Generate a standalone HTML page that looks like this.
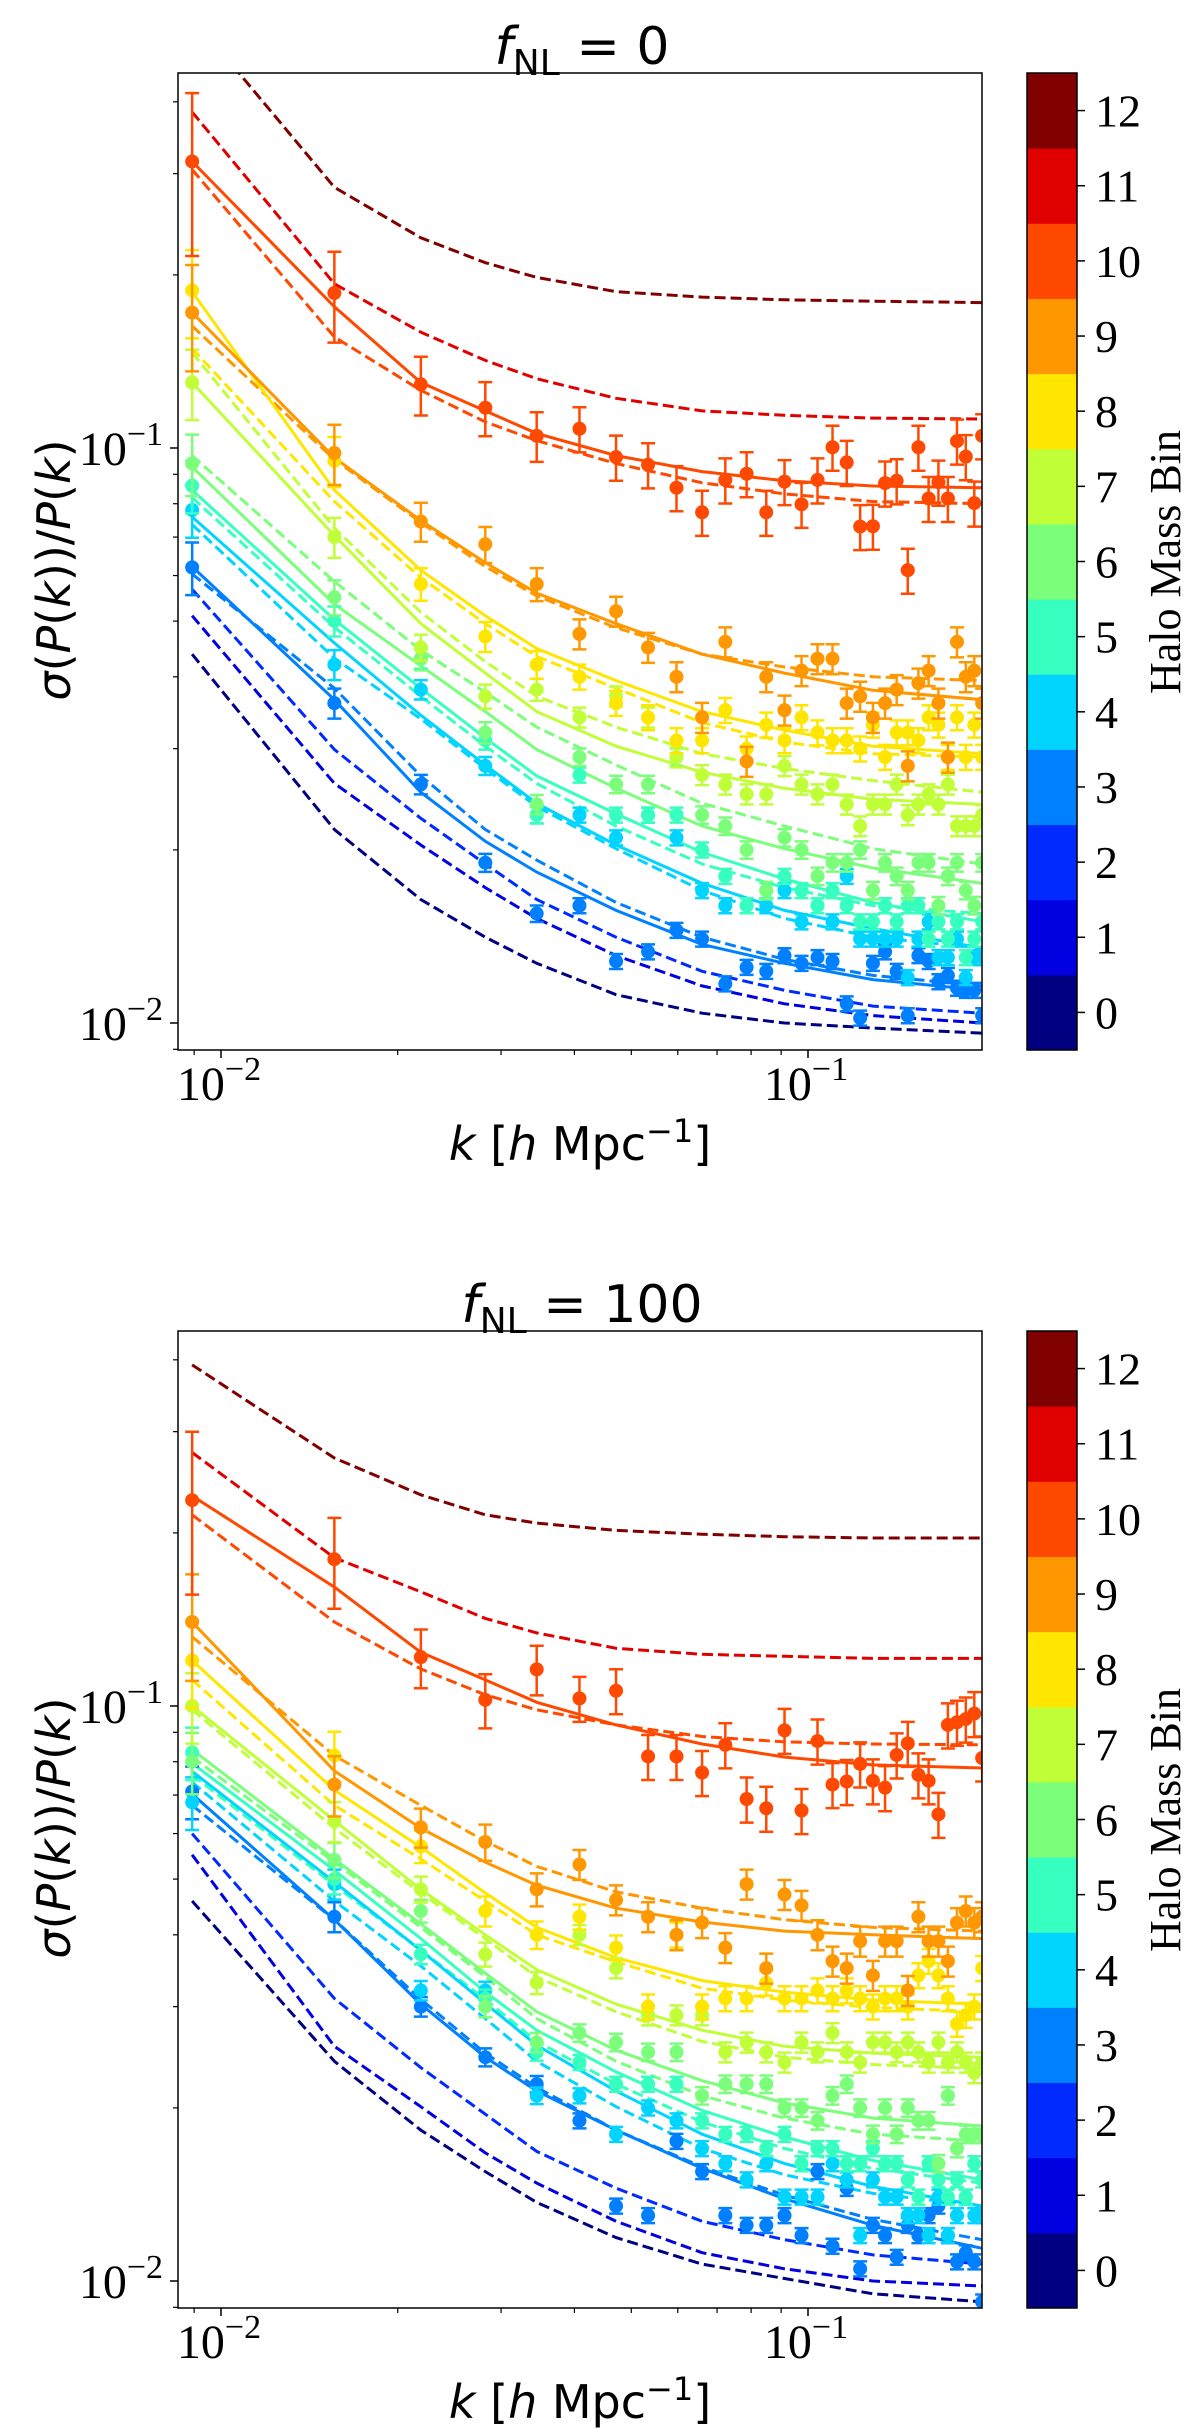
<!DOCTYPE html>
<html><head><meta charset="utf-8"><style>
html,body{margin:0;padding:0;background:#fff;}
svg{display:block;}
.serif{font-family:"Liberation Serif","DejaVu Serif",serif;}
.sans{font-family:"DejaVu Sans","Liberation Sans",sans-serif;}
</style></head>
<body>
<svg id="fig" width="1200" height="2435" viewBox="0 0 1200 2435" xmlns="http://www.w3.org/2000/svg"></svg>
<script>
// ---- data ----
const kVals = [0.00893,0.0156,0.0219,0.0282,0.0345,0.0408,0.0471,0.0534,0.0597,0.066,0.0723,0.0786,0.0849,0.0912,0.0975,0.1038,0.1101,0.1164,0.1227,0.129,0.1353,0.1416,0.1479,0.1542,0.1605,0.1668,0.1731,0.1794,0.1857,0.192,0.198];
const lineIdx = [0,1,2,3,4,6,9,13,19,30];
const bins = [0,1,2,3,4,5,6,7,8,9,10,11,12];
const solidBins = [3,4,5,6,7,8,9,10];

// top panel (fNL = 0): dashed model curves per bin 0..12 at kVals[lineIdx]
const dashTop = [
 [0.0438,0.0217,0.0164,0.0141,0.0127,0.0112,0.0104,0.0100,0.0098,0.0096],
 [0.0511,0.0261,0.0204,0.0172,0.0152,0.0131,0.0116,0.0108,0.0103,0.0100],
 [0.0568,0.0299,0.0227,0.0189,0.0164,0.0141,0.0123,0.0114,0.0107,0.0104],
 [0.0604,0.0382,0.0269,0.0217,0.0192,0.0162,0.0141,0.0129,0.0121,0.0116],
 [0.0736,0.0431,0.0338,0.0277,0.0238,0.0201,0.0170,0.0152,0.0141,0.0135],
 [0.0820,0.0488,0.0370,0.0303,0.0261,0.0220,0.0189,0.0172,0.0160,0.0155],
 [0.0970,0.0586,0.0445,0.0376,0.0327,0.0281,0.0241,0.0220,0.0201,0.0189],
 [0.1466,0.0726,0.0518,0.0425,0.0370,0.0327,0.0294,0.0277,0.0264,0.0252],
 [0.149,0.0807,0.0595,0.0495,0.0434,0.0382,0.0333,0.0308,0.0294,0.0290],
 [0.163,0.0955,0.0742,0.0622,0.0553,0.0487,0.0438,0.0416,0.0400,0.0394],
 [0.305,0.156,0.126,0.111,0.103,0.094,0.087,0.0832,0.0807,0.0800],
 [0.384,0.193,0.159,0.142,0.132,0.122,0.116,0.114,0.1127,0.1123],
 [0.562,0.284,0.232,0.210,0.198,0.187,0.183,0.181,0.180,0.179]
];
// solid fitted curves, bins 3..10
const solidTop = [
 [0.0622,0.0365,0.0252,0.0207,0.0183,0.0157,0.0137,0.0127,0.0119,0.0114],
 [0.0759,0.0458,0.0343,0.0281,0.0241,0.0204,0.0175,0.0157,0.0146,0.0135],
 [0.0845,0.0503,0.0382,0.0313,0.0269,0.0231,0.0198,0.0178,0.0162,0.0150],
 [0.0927,0.0535,0.0418,0.0348,0.0299,0.0256,0.0220,0.0201,0.0186,0.0175],
 [0.130,0.0704,0.0495,0.0406,0.0348,0.0303,0.0273,0.0256,0.0245,0.0240],
 [0.187,0.0845,0.0613,0.0511,0.0448,0.0394,0.0348,0.0323,0.0303,0.0294],
 [0.172,0.0962,0.0748,0.0632,0.0559,0.0495,0.0438,0.0406,0.0379,0.0365],
 [0.315,0.176,0.130,0.116,0.106,0.097,0.091,0.0877,0.0859,0.0853]
];
// measured points, bins 3..10, at every kVals
const ptsTop = [
 [0.062,0.036,0.026,0.019,0.0155,0.016,0.0128,0.0133,0.0145,0.014,0.0117,0.0125,0.0123,0.0131,0.0127,0.013,0.0128,0.0108,0.0102,0.0127,0.0133,0.0123,0.0103,0.0131,0.0128,0.0118,0.0121,0.0115,0.0114,0.0114,0.0103],
 [0.078,0.042,0.038,0.028,0.023,0.023,0.021,0.023,0.021,0.017,0.016,0.016,0.016,0.017,0.015,0.016,0.015,0.018,0.014,0.014,0.014,0.014,0.012,0.014,0.015,0.013,0.013,0.014,0.012,0.013,0.013],
 [0.086,0.050,0.043,0.031,0.023,0.027,0.023,0.023,0.023,0.020,0.018,0.016,0.017,0.018,0.017,0.016,0.017,0.016,0.015,0.015,0.016,0.015,0.016,0.016,0.014,0.015,0.014,0.015,0.013,0.014,0.015],
 [0.094,0.055,0.043,0.032,0.024,0.029,0.026,0.026,0.029,0.023,0.022,0.020,0.017,0.021,0.020,0.018,0.019,0.019,0.020,0.017,0.019,0.018,0.017,0.019,0.019,0.016,0.018,0.019,0.017,0.016,0.019],
 [0.130,0.070,0.045,0.037,0.038,0.034,0.037,0.034,0.029,0.027,0.026,0.025,0.025,0.028,0.026,0.025,0.026,0.024,0.022,0.024,0.024,0.026,0.023,0.024,0.025,0.024,0.026,0.022,0.022,0.022,0.023],
 [0.188,0.095,0.058,0.047,0.042,0.040,0.036,0.034,0.031,0.031,0.035,0.030,0.033,0.031,0.034,0.032,0.031,0.031,0.030,0.033,0.029,0.032,0.032,0.031,0.034,0.033,0.029,0.034,0.029,0.033,0.029],
 [0.172,0.098,0.0745,0.068,0.058,0.0475,0.052,0.045,0.040,0.034,0.046,0.0285,0.040,0.035,0.041,0.043,0.043,0.036,0.037,0.034,0.036,0.038,0.028,0.039,0.041,0.036,0.029,0.046,0.040,0.041,0.036],
 [0.315,0.186,0.129,0.1175,0.105,0.108,0.0964,0.0935,0.0853,0.0773,0.088,0.0902,0.0773,0.0874,0.0798,0.088,0.1003,0.0944,0.073,0.0731,0.0869,0.0877,0.0613,0.1003,0.0817,0.0872,0.0817,0.1028,0.0966,0.0802,0.105]
];

// bottom panel (fNL = 100)
const dashBot = [
 [0.0458,0.0241,0.0183,0.0155,0.0137,0.0119,0.0107,0.0101,0.0095,0.0092],
 [0.0551,0.0256,0.0201,0.0167,0.0148,0.0127,0.0112,0.0105,0.0100,0.0098],
 [0.060,0.031,0.0235,0.0195,0.0168,0.0145,0.0127,0.0118,0.0111,0.0107],
 [0.0672,0.0425,0.0309,0.0249,0.0217,0.0183,0.0158,0.0141,0.0128,0.0118],
 [0.0737,0.0458,0.0353,0.0286,0.0241,0.0201,0.0170,0.0153,0.0142,0.0135],
 [0.0759,0.0488,0.0376,0.0309,0.0261,0.0220,0.0189,0.0170,0.0157,0.0148],
 [0.0815,0.0535,0.0412,0.0338,0.0286,0.0241,0.0210,0.0192,0.0180,0.0175],
 [0.0985,0.0613,0.0473,0.0394,0.0338,0.0294,0.0261,0.0245,0.0238,0.0234],
 [0.111,0.0672,0.0542,0.0458,0.0400,0.0359,0.0323,0.0308,0.0299,0.0294],
 [0.132,0.082,0.0672,0.0582,0.0526,0.0475,0.0445,0.0425,0.0412,0.0406],
 [0.215,0.140,0.116,0.1046,0.0985,0.0927,0.0885,0.0866,0.0859,0.0856],
 [0.276,0.181,0.158,0.142,0.134,0.126,0.123,0.122,0.121,0.121],
 [0.392,0.270,0.233,0.215,0.208,0.202,0.199,0.197,0.196,0.196]
];
const solidBot = [
 [0.0703,0.0425,0.0303,0.0245,0.0214,0.0183,0.0157,0.0139,0.0125,0.0114],
 [0.0770,0.0494,0.0376,0.0304,0.0257,0.0214,0.0180,0.0160,0.0146,0.0135],
 [0.0795,0.0518,0.0394,0.0318,0.0273,0.0231,0.0198,0.0178,0.0162,0.0150],
 [0.0840,0.0542,0.0418,0.0343,0.0294,0.0252,0.0223,0.0204,0.0192,0.0186],
 [0.100,0.0632,0.0480,0.0400,0.0348,0.0303,0.0273,0.0256,0.0249,0.0245],
 [0.120,0.0714,0.0568,0.0473,0.0412,0.0365,0.0333,0.0318,0.0308,0.0303],
 [0.140,0.0771,0.0613,0.0535,0.0488,0.0445,0.0421,0.0406,0.0400,0.0394],
 [0.232,0.161,0.124,0.111,0.1015,0.0927,0.0859,0.0815,0.0790,0.0780]
];
const ptsBot = [
 [0.071,0.043,0.030,0.0245,0.022,0.019,0.0135,0.013,0.0175,0.0155,0.013,0.0125,0.0125,0.013,0.012,0.0155,0.0115,0.0145,0.0105,0.0125,0.012,0.011,0.0125,0.012,0.013,0.0135,0.012,0.0108,0.0112,0.0108,0.0092],
 [0.068,0.049,0.032,0.032,0.021,0.021,0.018,0.020,0.019,0.017,0.016,0.015,0.016,0.014,0.014,0.014,0.016,0.015,0.012,0.015,0.014,0.014,0.013,0.013,0.012,0.014,0.012,0.013,0.014,0.013,0.013],
 [0.083,0.050,0.037,0.031,0.025,0.024,0.022,0.022,0.022,0.019,0.018,0.018,0.017,0.018,0.016,0.017,0.017,0.016,0.016,0.017,0.016,0.016,0.015,0.014,0.016,0.015,0.014,0.015,0.014,0.016,0.015],
 [0.080,0.054,0.044,0.030,0.026,0.027,0.026,0.025,0.025,0.021,0.022,0.022,0.022,0.020,0.020,0.019,0.021,0.022,0.020,0.018,0.020,0.018,0.020,0.019,0.019,0.016,0.021,0.017,0.018,0.018,0.018],
 [0.100,0.063,0.048,0.037,0.033,0.040,0.035,0.029,0.029,0.029,0.025,0.026,0.025,0.024,0.026,0.025,0.027,0.025,0.024,0.026,0.026,0.025,0.026,0.025,0.024,0.026,0.024,0.025,0.024,0.023,0.024],
 [0.120,0.082,0.057,0.044,0.040,0.043,0.038,0.030,0.040,0.030,0.031,0.031,0.033,0.031,0.031,0.032,0.031,0.032,0.031,0.030,0.031,0.031,0.030,0.034,0.036,0.034,0.031,0.028,0.029,0.030,0.035],
 [0.140,0.073,0.0615,0.058,0.048,0.053,0.046,0.043,0.040,0.042,0.038,0.049,0.035,0.047,0.045,0.040,0.036,0.035,0.039,0.034,0.039,0.039,0.032,0.043,0.039,0.039,0.036,0.042,0.044,0.042,0.043],
 [0.228,0.180,0.1216,0.1025,0.1158,0.1031,0.1063,0.0817,0.0817,0.0766,0.0856,0.0689,0.0664,0.0907,0.0658,0.0869,0.073,0.0739,0.0793,0.0741,0.0721,0.0822,0.0861,0.0759,0.0741,0.0648,0.0927,0.0937,0.0949,0.097,0.0812]
];
// relative error bar half-widths per bin (3..10) and per-k enlargement
const relErr = [0.03,0.03,0.03,0.035,0.04,0.05,0.06,0.09];
const errK = [3.5,2,1.3,1.2,1.1,1,1,1,1,1,1,1,1,1,1,1,1,1,1,1,1,1,1,1,1,1,1,1,1,1,1];
const xTickVals = [0.01,0.1];
const xTickExp = ["−2","−1"];
const yTickVals = [0.01,0.1];
const yTickExp = ["−2","−1"];
const cbLabels = ["0","1","2","3","4","5","6","7","8","9","10","11","12"];

// ---- rendering ----
const NS = "http://www.w3.org/2000/svg";
const svg = document.getElementById('fig');
function mk(tag, attrs, parent){ const e=document.createElementNS(NS,tag); for(const k in attrs) e.setAttribute(k,attrs[k]); (parent||svg).appendChild(e); return e; }

function jet(t){
  function seg(pts){ for(let i=0;i<pts.length-1;i++){ const [x0,y0]=pts[i],[x1,y1]=pts[i+1]; if(t>=x0&&t<=x1) return y0+(y1-y0)*(t-x0)/(x1-x0);} return pts[pts.length-1][1]; }
  const r=seg([[0,0],[0.35,0],[0.66,1],[0.89,1],[1,0.5]]);
  const g=seg([[0,0],[0.125,0],[0.375,1],[0.64,1],[0.91,0],[1,0]]);
  const b=seg([[0,0.5],[0.11,1],[0.34,1],[0.65,0],[1,0]]);
  return `rgb(${Math.round(r*255)},${Math.round(g*255)},${Math.round(b*255)})`;
}
const colorOf = b => jet(b/12);

const X0=178, X1=982, XD10=221, XDEC=587;
const xs = k => XD10 + (Math.log10(k)+2)*XDEC;

function panel(off, title, dash, solid, pts, tag){
  const top=73+off, bot=1050+off, y01=448+off, YDEC=575;
  const ys = v => y01 - (Math.log10(v)+1)*YDEC;
  const g = mk('g',{});
  
  
  const cid='clip'+tag;
  const defs=mk('defs',{},g);
  const cp=mk('clipPath',{id:cid},defs);
  mk('rect',{x:X0,y:top,width:X1-X0,height:bot-top},cp);
  const plot=mk('g',{'clip-path':`url(#${cid})`},g);
  
  
  const path = arr => arr.map((v,i)=>(i?'L':'M')+xs(kVals[lineIdx[i]]).toFixed(1)+','+ys(v).toFixed(1)).join(' ');
  bins.forEach(b=>{
    const p=mk('path',{d:path(dash[b]),fill:'none',stroke:colorOf(b),'stroke-width':3,'stroke-dasharray':'11,5'},plot);
    
    
  });
  solidBins.forEach((b,j)=>{
    const p=mk('path',{d:path(solid[j]),fill:'none',stroke:colorOf(b),'stroke-width':3},plot);
    
    
  });
  solidBins.forEach((b,j)=>{
    const col=colorOf(b);
    const gg=mk('g',{},plot);
    
    
    pts[j].forEach((v,i)=>{
      const x=xs(kVals[i]); const e=relErr[j]*errK[i];
      const yh=ys(v*(1+e)), yl=ys(v*(1-e));
      const eb=mk('path',{d:`M${x},${yh}L${x},${yl}M${x-7},${yh}L${x+7},${yh}M${x-7},${yl}L${x+7},${yl}`,stroke:col,'stroke-width':2.5,fill:'none'},gg);
      
      
      const c=mk('circle',{cx:x,cy:ys(v),r:7,fill:col},gg);
      
      
    });
  });
  const fr=mk('rect',{x:X0,y:top,width:X1-X0,height:bot-top,fill:'none',stroke:'#000','stroke-width':1.5},g);
  
  
  for(let d=-3;d<=-1;d++){ for(let m=1;m<10;m++){
    const k=m*Math.pow(10,d); const x=xs(k);
    if(x<X0-0.5||x>X1+0.5) continue;
    mk('line',{x1:x,y1:bot,x2:x,y2:bot+(m===1?8:5),stroke:'#000','stroke-width':m===1?1.5:1.2},g);
  } }
  xTickVals.forEach((k,i)=>{
    const t=mk('text',{x:xs(k)-2,y:bot+50,'text-anchor':'middle','font-size':48,class:'serif'},g);
    
    
    t.innerHTML=`10<tspan font-size="34" dy="-20">${xTickExp[i]}</tspan>`;
  });
  for(let d=-3;d<=0;d++){ for(let m=1;m<10;m++){
    const v=m*Math.pow(10,d); const y=ys(v);
    if(y<top-0.5||y>bot+0.5) continue;
    mk('line',{x1:X0,y1:y,x2:X0-(m===1?8:5),y2:y,stroke:'#000','stroke-width':m===1?1.5:1.2},g);
  } }
  yTickVals.forEach((v,i)=>{
    const t=mk('text',{x:163,y:ys(v)+17,'text-anchor':'end','font-size':48,class:'serif'},g);
    
    
    t.innerHTML=`10<tspan font-size="34" dy="-20">${yTickExp[i]}</tspan>`;
  });
  const tt=mk('text',{x:582,y:64+off,'text-anchor':'middle','font-size':52,class:'sans'},g);
  
  
  tt.innerHTML=`<tspan font-style="italic">f</tspan><tspan font-size="36" dy="11">NL</tspan><tspan dy="-11"> = ${title}</tspan>`;
  const xl=mk('text',{x:580,y:1160+off,'text-anchor':'middle','font-size':46,class:'sans'},g);
  
  
  xl.innerHTML=`<tspan font-style="italic">k</tspan> [<tspan font-style="italic">h</tspan> Mpc<tspan font-size="32" dy="-18">−1</tspan><tspan dy="18">]</tspan>`;
  const yl=mk('text',{x:0,y:0,'text-anchor':'middle','font-size':46,class:'sans',transform:`translate(70,${570+off}) rotate(-90)`},g);
  
  
  yl.innerHTML=`<tspan font-style="italic">σ</tspan>(<tspan font-style="italic">P</tspan>(<tspan font-style="italic">k</tspan>))/<tspan font-style="italic">P</tspan>(<tspan font-style="italic">k</tspan>)`;
  const cb=mk('g',{},g);
  
  
  const CX=1027, CW=50, segH=(bot-top)/13;
  bins.forEach(b=>{
    const r=mk('rect',{x:CX,y:bot-(b+1)*segH,width:CW,height:segH+0.5,fill:colorOf(b)},cb);
    
    
    const yc=bot-(b+0.5)*segH;
    mk('line',{x1:CX+CW,y1:yc,x2:CX+CW+8,y2:yc,stroke:'#000','stroke-width':1.5},cb);
    const t=mk('text',{x:1095,y:yc+16,'font-size':46,class:'serif'},cb);
    
    
    t.textContent=cbLabels[b];
  });
  mk('rect',{x:CX,y:top,width:CW,height:bot-top,fill:'none',stroke:'#000','stroke-width':1.5},cb);
  const cl=mk('text',{x:0,y:0,'text-anchor':'middle','font-size':44,class:'serif',transform:`translate(1180,${562+off}) rotate(-90)`},cb);
  
  
  cl.textContent='Halo Mass Bin';
}
panel(0,'0',dashTop,solidTop,ptsTop,'fnl0');
panel(1258,'100',dashBot,solidBot,ptsBot,'fnl100');
</script>
</body></html>
